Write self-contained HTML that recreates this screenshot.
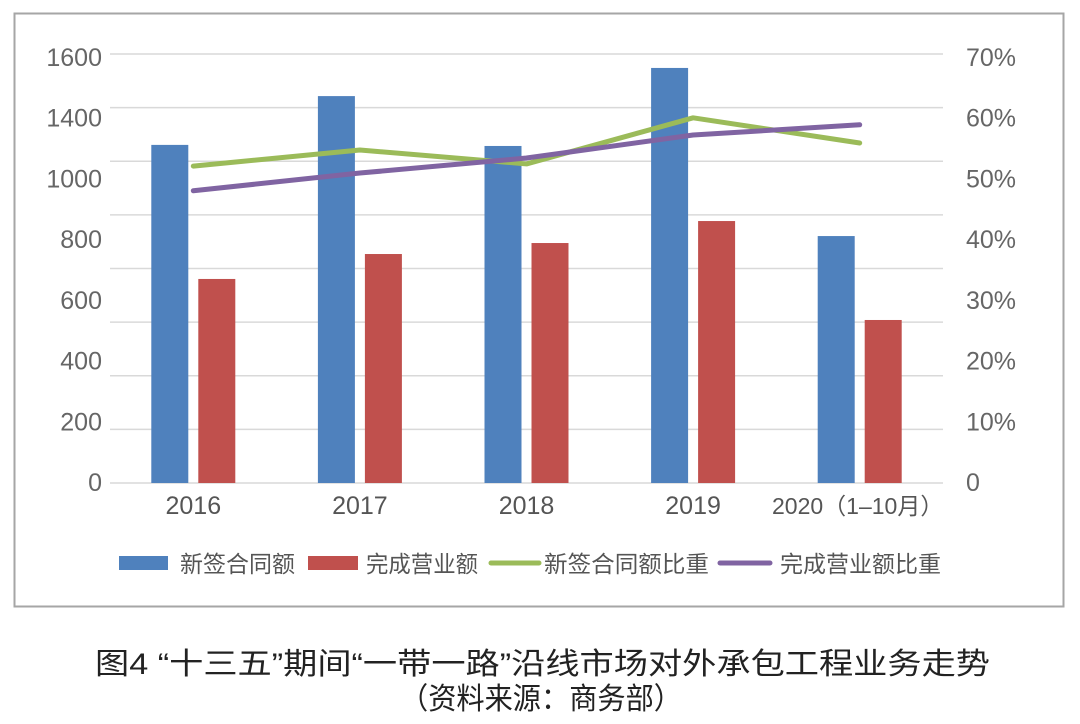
<!DOCTYPE html>
<html><head><meta charset="utf-8">
<style>
body{margin:0;background:#fff;}
svg{display:block;font-family:"Liberation Sans","Noto Sans CJK SC",sans-serif;}
</style></head>
<body>
<svg id="chart" width="1080" height="724" viewBox="0 0 1080 724">
<rect x="14.5" y="13.5" width="1049" height="593" fill="none" stroke="#a6a6a6" stroke-width="2"/>
<g id="grid"></g>
<g id="bars"></g>
<g id="lines"></g>
<g id="axes"></g>
<g id="legend"></g>
<text x="95" y="674" font-size="30" fill="#222" textLength="895" lengthAdjust="spacingAndGlyphs">图4 “十三五”期间“一带一路”沿线市场对外承包工程业务走势</text>
<text x="400" y="709" font-size="30" fill="#222" textLength="282" lengthAdjust="spacingAndGlyphs">（资料来源：商务部）</text>
</svg>
<script>
const categories = ["2016","2017","2018","2019","2020（1–10月）"];
const newContracts = [1261,1443,1257,1548,921];
const completed = [761,854,895,977,608];
const newShare = [59.1,62.1,59.5,68.1,63.4];
const completedShare = [54.5,57.8,60.6,64.9,66.8];
const leftTicks = ["1600","1400","1000","800","600","400","200","0"];
const rightTicks = ["70%","60%","50%","40%","30%","20%","10%","0"];
const gridValues = [0,200,400,600,800,1000,1200,1400,1600];

const NS="http://www.w3.org/2000/svg";
const X0=110,X1=943,Y0=483,Y1=54;
const yL=v=>Y0-(v/1600)*(Y0-Y1);
const yR=v=>Y0-(v/80)*(Y0-Y1);
const band=(X1-X0)/categories.length;
const xc=i=>X0+band*(i+0.5);
function mk(tag,attrs,parent){const e=document.createElementNS(NS,tag);for(const k in attrs)e.setAttribute(k,attrs[k]);parent.appendChild(e);return e;}
const grid=document.getElementById('grid'),bars=document.getElementById('bars'),lines=document.getElementById('lines'),axes=document.getElementById('axes'),legend=document.getElementById('legend');

gridValues.forEach(v=>{
  const l=mk('line',{x1:X0,x2:X1,y1:yL(v),y2:yL(v),stroke:'#d9d9d9','stroke-width':1.5},grid);
  
  
});
const labStep=(482-57)/(leftTicks.length-1);
leftTicks.forEach((t,i)=>{
  const e=mk('text',{x:102,y:57+i*labStep+9,'font-size':25,fill:'#666','text-anchor':'end'},axes);
  e.textContent=t;
  
  
});
rightTicks.forEach((t,i)=>{
  const e=mk('text',{x:966,y:57+i*labStep+9,'font-size':25,fill:'#666'},axes);
  e.textContent=t;
  
  
});
categories.forEach((c,i)=>{
  const e=mk('text',{x:xc(i)+(i==4?-2:0),y:514,'font-size':i==4?23:25,fill:'#555','text-anchor':'middle'},axes);
  e.textContent=c;
  
  
});
const bw=37,gap=10;
newContracts.forEach((v,i)=>{
  const r=mk('rect',{x:xc(i)-gap/2-bw,y:yL(v),width:bw,height:Y0-yL(v),fill:'#4f81bd'},bars);
  
  
});
completed.forEach((v,i)=>{
  const r=mk('rect',{x:xc(i)+gap/2,y:yL(v),width:bw,height:Y0-yL(v),fill:'#c0504d'},bars);
  
  
});
const g=mk('polyline',{points:newShare.map((v,i)=>xc(i)+','+yR(v)).join(' '),fill:'none',stroke:'#9bbb59','stroke-width':5,'stroke-linecap':'round','stroke-linejoin':'round'},lines);


const p=mk('polyline',{points:completedShare.map((v,i)=>xc(i)+','+yR(v)).join(' '),fill:'none',stroke:'#8064a2','stroke-width':5,'stroke-linecap':'round','stroke-linejoin':'round'},lines);



const LY=563;
let e;
e=mk('rect',{x:119,y:LY-7,width:49,height:14,fill:'#4f81bd'},legend);


e=mk('text',{x:180,y:LY+9,'font-size':23,fill:'#555',textLength:115,lengthAdjust:'spacingAndGlyphs'},legend);
e.textContent='新签合同额';


e=mk('rect',{x:308,y:LY-7,width:50,height:14,fill:'#c0504d'},legend);


e=mk('text',{x:366,y:LY+9,'font-size':23,fill:'#555',textLength:112,lengthAdjust:'spacingAndGlyphs'},legend);
e.textContent='完成营业额';


e=mk('line',{x1:491,x2:539,y1:LY,y2:LY,stroke:'#9bbb59','stroke-width':5,'stroke-linecap':'round'},legend);


e=mk('text',{x:544,y:LY+9,'font-size':23,fill:'#555',textLength:165,lengthAdjust:'spacingAndGlyphs'},legend);
e.textContent='新签合同额比重';


e=mk('line',{x1:720,x2:770,y1:LY,y2:LY,stroke:'#8064a2','stroke-width':5,'stroke-linecap':'round'},legend);


e=mk('text',{x:780,y:LY+9,'font-size':23,fill:'#555',textLength:161,lengthAdjust:'spacingAndGlyphs'},legend);
e.textContent='完成营业额比重';


</script>
</body></html>
